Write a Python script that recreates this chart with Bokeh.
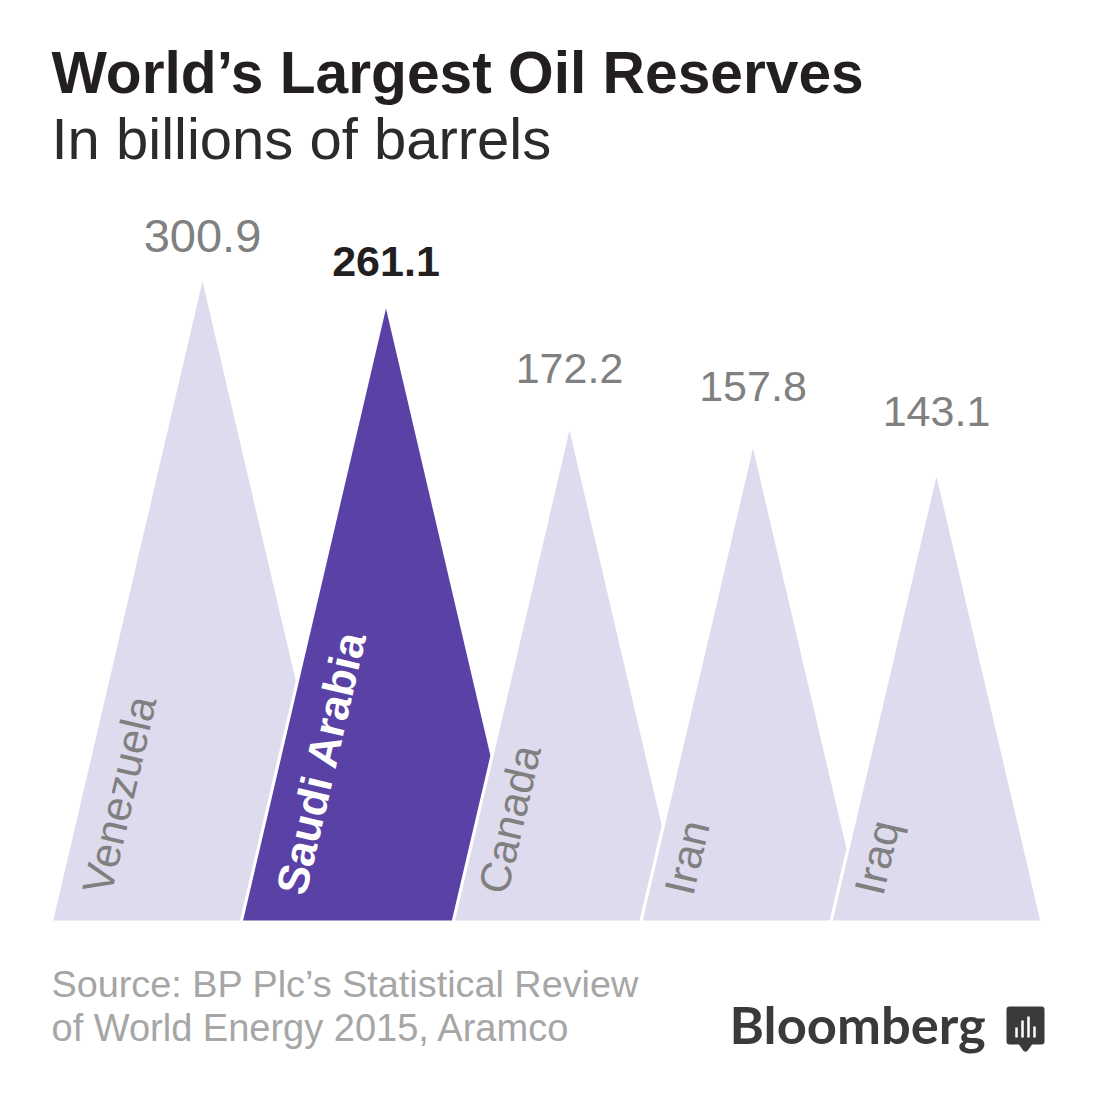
from bokeh.plotting import figure
from bokeh.embed import file_html
from bokeh.resources import INLINE
from bokeh.core.properties import value
import math

countries = ["Venezuela", "Saudi Arabia", "Canada", "Iran", "Iraq"]
reserves = ["300.9", "261.1", "172.2", "157.8", "143.1"]
# the peaks in the original graphic are not drawn in proportion to the figures
peak_heights = [639, 612, 490, 472, 444]

W = H = 1079
BASE = 920
FIRST = 202
STEP = 183.5
SLOPE = 0.2335
GAP = 3.2

def X(px):
    return (px - FIRST) / STEP

def Y(py):
    return BASE - py

p = figure(width=W, height=H, output_backend="svg", toolbar_location=None,
           x_range=(X(0), X(W)), y_range=(Y(H), Y(0)),
           min_border=0, outline_line_color=None, background_fill_color="white")
p.axis.visible = False
p.grid.visible = False

LIGHT = "#DEDBEE"
PURPLE = "#5A41A5"
hw = [h * SLOPE / STEP for h in peak_heights]
xs, ys, cols = [], [], []
for i, h in enumerate(peak_heights):
    left = i - hw[i]
    right = i + hw[i]
    if i < len(peak_heights) - 1:
        g = GAP / STEP
        nl = i + 1 - hw[i + 1] - g
        k_r = hw[i] / h
        k_l = hw[i + 1] / peak_heights[i + 1]
        y_c = (right - nl) / (k_r + k_l)
        x_c = right - k_r * y_c
        xs.append([left, i, x_c, nl])
        ys.append([0, h, y_c, 0])
    else:
        xs.append([left, i, right])
        ys.append([0, h, 0])
    cols.append(PURPLE if i == 1 else LIGHT)
p.patches(xs, ys, fill_color=cols, line_color=None)

SANS = value("Liberation Sans")

def text(px, py, s, size, color, bold=False, angle=0, align="left", font=SANS):
    # the renderer draws alphabetic text about 0.385em low
    py = py - (0.385 * size if angle == 0 else 0)
    p.text([X(px)], [Y(py)], text=[s], text_font=font, text_font_size=f"{size}px",
           text_color=color, text_font_style="bold" if bold else "normal",
           angle=angle, text_align=align, text_baseline="alphabetic")

text(51, 95, "World\u2019s Largest Oil Reserves", 58.7, "#231F20", bold=True)
text(51, 160, "In billions of barrels", 58, "#2B2B2B")

label_baselines = [254, 278, 385, 403, 428]
label_sizes = [47, 43, 43, 43, 43]
for i, (v, b, s) in enumerate(zip(reserves, label_baselines, label_sizes)):
    sel = i == 1
    text(FIRST + STEP * i, b, v, s, "#231F20" if sel else "#808080", bold=sel, align="center")

ANG = math.radians(76.9)
name_starts = [(96, 892), (290, 893), (492, 892), (678, 893), (868, 893)]
for i, (c, (x0, y0)) in enumerate(zip(countries, name_starts)):
    sel = i == 1
    text(x0, y0, c, 44 if sel else 43, "white" if sel else "#808080", bold=sel, angle=ANG)

text(51, 998, "Source: BP Plc\u2019s Statistical Review", 37.8, "#A6A6A6")
text(51, 1042, "of World Energy 2015, Aramco", 38, "#A6A6A6")

text(729, 1043, "Bloomberg", 52.5, "#3A3A3A", bold=True, font=value("Lato"))

DARK = "#3A3A3A"
bx = [1009, 1041, 1041, 1030, 1025, 1020, 1009]
by = [1009, 1009, 1041, 1041, 1048, 1041, 1041]
p.patch([X(v) for v in bx], [Y(v) for v in by], fill_color=DARK, line_color=DARK,
        line_width=6, line_join="round")
for x0, top in [(1016, 1027), (1022, 1020), (1028, 1016), (1034, 1026)]:
    p.segment([X(x0)], [Y(top)], [X(x0)], [Y(1037)], line_color="white", line_width=2.5)

open("out.html", "w").write(file_html(p, INLINE))
